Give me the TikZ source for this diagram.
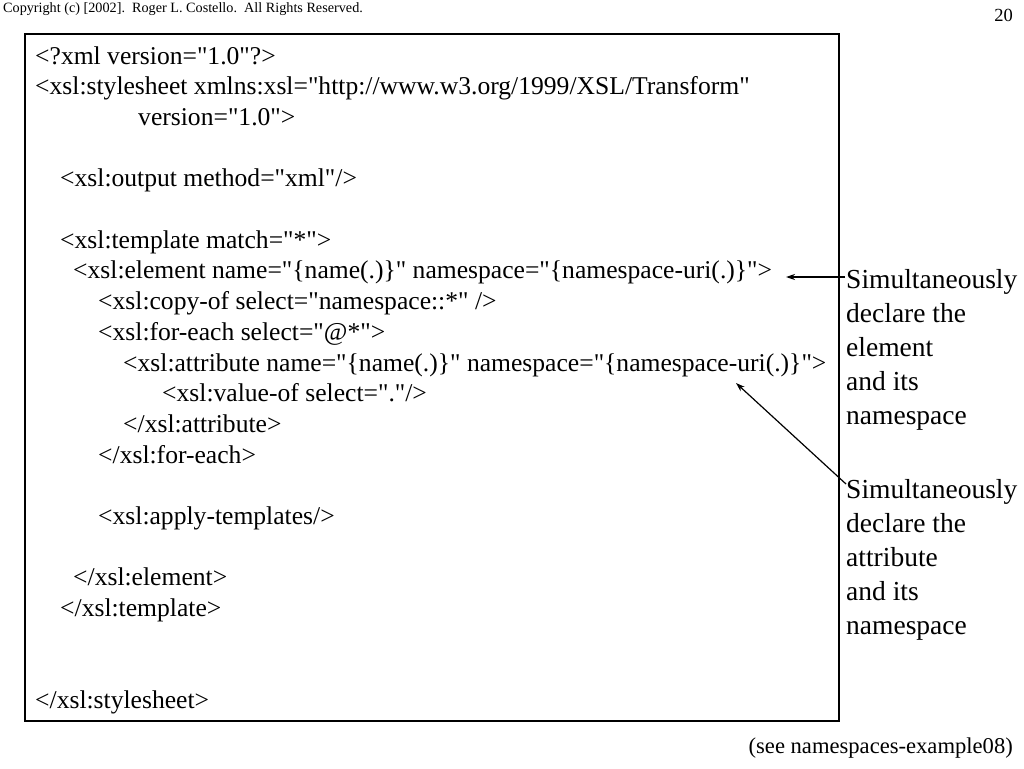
\documentclass[tikz,border=0pt]{standalone}
\usepackage{fontspec}
\setmainfont{Liberation Serif}[Ligatures=TeXOff]
\usetikzlibrary{arrows.meta}
\begin{document}
\begin{tikzpicture}[x=1pt,y=-1pt,
  code/.style={anchor=base west,inner sep=0pt,font=\fontsize{25.6}{30}\selectfont},
  note/.style={anchor=base west,inner sep=0pt,font=\fontsize{27.5}{34}\selectfont},
  small/.style={anchor=base west,inner sep=0pt,font=\fontsize{14.2}{16}\selectfont},
  pagenum/.style={anchor=base east,inner sep=0pt,font=\fontsize{18.5}{20}\selectfont},
  foot/.style={anchor=base east,inner sep=0pt,font=\fontsize{22.6}{26}\selectfont},
  pointer/.style={line width=1.2pt,-{Stealth[length=9pt,width=6pt]}}]
\useasboundingbox (0,0) rectangle (1024,768);
\node[small] (copy) at (3,13) {Copyright (c) [2002].\ \ Roger L. Costello.\ \ All Rights Reserved.};
\node[pagenum] (page) at (1013,22) {20};
\draw[line width=1.3pt] (25,34) rectangle (839,721);
\node[code] (l1) at (35,64) {<?xml version="1.0"?>};
\node[code] (l2) at (35,94.7) {<xsl:stylesheet xmlns:xsl="http://www.w3.org/1999/XSL/Transform"};
\node[code] (l3) at (138,125.4) {version="1.0">};
\node[code] (l5) at (60,186.8) {<xsl:output method="xml"/>};
\node[code] (l7) at (60,248.2) {<xsl:template match="*">};
\node[code] (l8) at (73,278.9) {<xsl:element name="\{name(.)\}" namespace="\{namespace-uri(.)\}">};
\node[code] (l9) at (98,309.6) {<xsl:copy-of select="namespace::*" />};
\node[code] (l10) at (98,340.3) {<xsl:for-each select="@*">};
\node[code] (l11) at (123,371) {<xsl:attribute name="\{name(.)\}" namespace="\{namespace-uri(.)\}">};
\node[code] (l12) at (162,401.7) {<xsl:value-of select="."/>};
\node[code] (l13) at (123,432.4) {</xsl:attribute>};
\node[code] (l14) at (98,463.1) {</xsl:for-each>};
\node[code] (l16) at (98,524.5) {<xsl:apply-templates/>};
\node[code] (l18) at (73,585.9) {</xsl:element>};
\node[code] (l19) at (60,616.6) {</xsl:template>};
\node[code] (l22) at (35,708.7) {</xsl:stylesheet>};
\node[note] (a1) at (846,288) {Simultaneously};
\node[note] (a2) at (846,322) {declare the};
\node[note] (a3) at (846,356) {element};
\node[note] (a4) at (846,390) {and its};
\node[note] (a5) at (846,424) {namespace};
\node[note] (b1) at (846,498) {Simultaneously};
\node[note] (b2) at (846,532) {declare the};
\node[note] (b3) at (846,566) {attribute};
\node[note] (b4) at (846,600) {and its};
\node[note] (b5) at (846,634) {namespace};
\node[foot] (see) at (1013,753) {(see namespaces-example08)};
\coordinate (s1) at (845,277);
\coordinate (t1) at (786,277);
\coordinate (s2) at (846,484);
\coordinate (t2) at (736,383);
\draw[pointer] (s1) -- (t1);
\draw[pointer] (s2) -- (t2);
\end{tikzpicture}
\end{document}
